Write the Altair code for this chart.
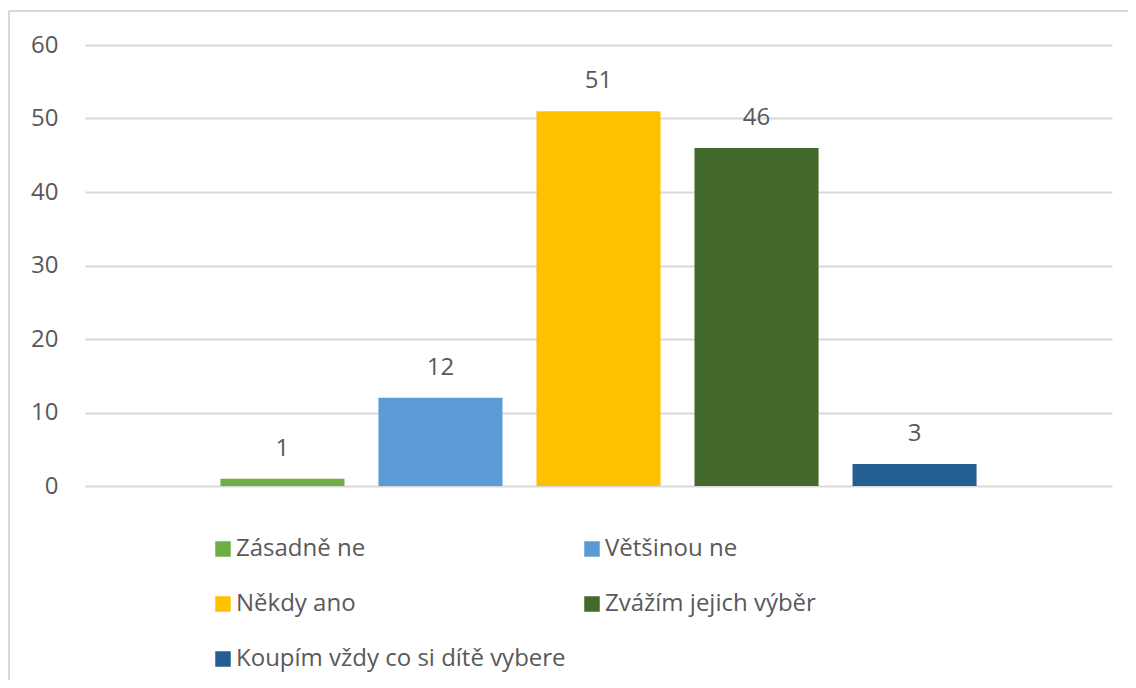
import altair as alt
import pandas as pd

categories = ["Zásadně ne", "Většinou ne", "Někdy ano", "Zvážím jejich výběr", "Koupím vždy co si dítě vybere"]
values = [1, 12, 51, 46, 3]
colors = ["#70AD47", "#5B9BD5", "#FFC000", "#43682B", "#255E91"]
y_ticks = [0, 10, 20, 30, 40, 50, 60]

df = pd.DataFrame({"Kategorie": categories, "Počet": values})

FONT = "Open Sans"
TXT = "#595959"
GRID = "#D9D9D9"

x_enc = alt.X("Kategorie:N", sort=categories, axis=None,
              scale=alt.Scale(paddingInner=0.215, paddingOuter=0.857))
y_enc = alt.Y("Počet:Q",
              scale=alt.Scale(domain=[0, 60], nice=False, zero=True),
              axis=alt.Axis(values=y_ticks, title=None, domain=False, ticks=False,
                            grid=True, gridColor=GRID, gridWidth=2,
                            labelFont=FONT, labelFontSize=24, labelColor=TXT,
                            labelPadding=27))

bars = alt.Chart(df).mark_bar().encode(
    x=x_enc,
    y=y_enc,
    color=alt.Color("Kategorie:N", sort=categories,
                    scale=alt.Scale(domain=categories, range=colors),
                    legend=alt.Legend(orient="none", legendX=126, legendY=492,
                                      direction="horizontal",
                                      columns=2, title=None,
                                      symbolType="square", symbolSize=240,
                                      symbolStrokeWidth=0, symbolOpacity=1,
                                      labelFont=FONT, labelFontSize=24, labelColor=TXT,
                                      labelOffset=1, labelLimit=600,
                                      rowPadding=31, columnPadding=14)),
)

labels = alt.Chart(df).mark_text(baseline="middle", dy=-30, font=FONT,
                                 fontSize=24, color=TXT).encode(
    x=alt.X("Kategorie:N", sort=categories),
    y="Počet:Q",
    text="Počet:Q",
)

frame_df = pd.DataFrame({"f": [0]})
frame_left = alt.Chart(frame_df).mark_rule(color=GRID, strokeWidth=2).encode(
    x=alt.value(-76), y=alt.value(-34), y2=alt.value(700))
frame_top = alt.Chart(frame_df).mark_rule(color=GRID, strokeWidth=2).encode(
    x=alt.value(-76), x2=alt.value(1100), y=alt.value(-34))

chart = alt.layer(bars, labels, frame_left, frame_top).properties(
    width=1027, height=441,
    autosize=alt.AutoSizeParams(type="none"),
    padding={"left": 77, "top": 37, "right": 16, "bottom": 194},
).configure_view(stroke=None)

chart.save("out.html", embed_options={"renderer": "svg", "actions": False})
